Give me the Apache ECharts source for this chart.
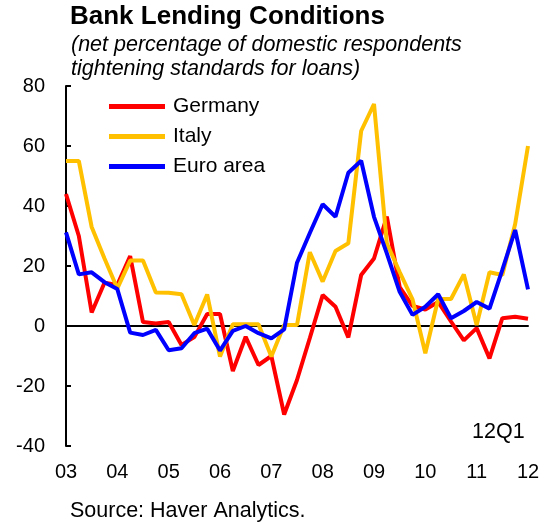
<!DOCTYPE html>
<html>
<head>
<meta charset="utf-8">
<script src="https://cdn.jsdelivr.net/npm/echarts@6/dist/echarts.min.js"></script>
<style>
  html, body { margin: 0; padding: 0; background: #fff; }
  #chart { width: 548px; height: 523px; }
</style>
</head>
<body>
<div id="chart"></div>
<script>
// quarters 2003Q1 .. 2012Q1
const quarters = [];
for (let y = 3; y <= 12; y++) {
  for (let q = 1; q <= 4; q++) {
    if (y === 12 && q > 1) break;
    quarters.push(String(y).padStart(2, '0') + 'Q' + q);
  }
}

const germany = [44, 30, 4.5, 14.4, 13.7, 23.3, 1.3, 0.8, 1.3, -6.3, -3.7, 4, 4, -15, -3.6, -13, -10, -29.5, -18, -4, 10.3, 6.4, -3.8, 17, 22.5, 36.5, 13, 6.7, 5.5, 8, 1.5, -4.8, -0.7, -10.8, 2.6, 3.1, 2.4];
const italy = [55, 55, 33, 22.5, 12.5, 21.8, 21.8, 11.2, 11.1, 10.6, 0.3, 10.5, -10.2, 0.6, 0.6, 0.6, -10.2, 0.3, 0.3, 24.6, 14.8, 25, 27.6, 65, 74, 27.6, 18, 8.9, -9.1, 9, 9, 17.2, 0.3, 17.9, 17, 34, 60];
const euroArea = [31.2, 17.2, 17.9, 14.6, 12.3, -2.2, -3, -1.3, -8.1, -7.4, -2.4, -0.9, -8.2, -1.6, 0, -2.4, -4.1, -1.1, 21.1, 31, 40.6, 36.4, 51.1, 55.1, 36.4, 24.2, 11.4, 3.7, 6.4, 10.6, 2.6, 5, 8, 5.8, 18.7, 32, 12.2];

const font = 'Liberation Sans, Arial, sans-serif';

const chart = echarts.init(document.getElementById('chart'));

const mkLine = (name, data, color) => ({
  name, type: 'line', data, symbol: 'none',
  lineStyle: { color, width: 4 },
  itemStyle: { color },
  animation: false
});

chart.setOption({
  animation: false,
  grid: { left: 66, right: 20, top: 86, bottom: 77 },
  legend: {
    orient: 'vertical', left: 104, top: 91, itemGap: 9,
    icon: 'rect', itemWidth: 56, itemHeight: 5,
    textStyle: { fontFamily: font, fontSize: 21, color: '#000', padding: [0, 0, 0, 3] },
    data: ['Germany', 'Italy', 'Euro area']
  },
  xAxis: [{
    type: 'category', data: quarters, boundaryGap: false,
    axisLine: { show: false, onZero: false },
    axisTick: { show: false },
    axisLabel: {
      interval: 3, margin: 16, color: '#000',
      fontFamily: font, fontSize: 20,
      formatter: v => v.slice(0, 2)
    },
    splitLine: { show: false }
  }, {
    type: 'category', data: quarters, boundaryGap: false,
    axisLine: { show: true, onZero: true, lineStyle: { color: '#000', width: 2 } },
    axisTick: { show: false }, axisLabel: { show: false }, splitLine: { show: false }
  }],
  yAxis: {
    type: 'value', min: -40, max: 80, interval: 20,
    axisLine: { show: true, lineStyle: { color: '#000', width: 2 } },
    axisTick: { show: true, inside: true, length: 5, lineStyle: { color: '#000', width: 2 } },
    axisLabel: { margin: 21, color: '#000', fontFamily: font, fontSize: 20 },
    splitLine: { show: false }
  },
  series: [
    mkLine('Germany', germany, '#ff0000'),
    mkLine('Italy', italy, '#ffc000'),
    mkLine('Euro area', euroArea, '#0000ff')
  ],
  graphic: [
    { type: 'text', left: 70, top: 4, style: { text: 'Bank Lending Conditions', font: 'bold 26px ' + font, fill: '#000' } },
    { type: 'text', left: 71, top: 34, style: { text: '(net percentage of domestic respondents', font: 'italic 21.5px ' + font, fill: '#000' } },
    { type: 'text', left: 71, top: 58, style: { text: 'tightening standards for loans)', font: 'italic 21.5px ' + font, fill: '#000' } },
    { type: 'text', left: 472, top: 421, style: { text: '12Q1', font: '21.5px ' + font, fill: '#000' } },
    { type: 'text', left: 70, top: 500, style: { text: 'Source: Haver Analytics.', font: '21.5px ' + font, fill: '#000' } }
  ]
});
</script>
</body>
</html>
